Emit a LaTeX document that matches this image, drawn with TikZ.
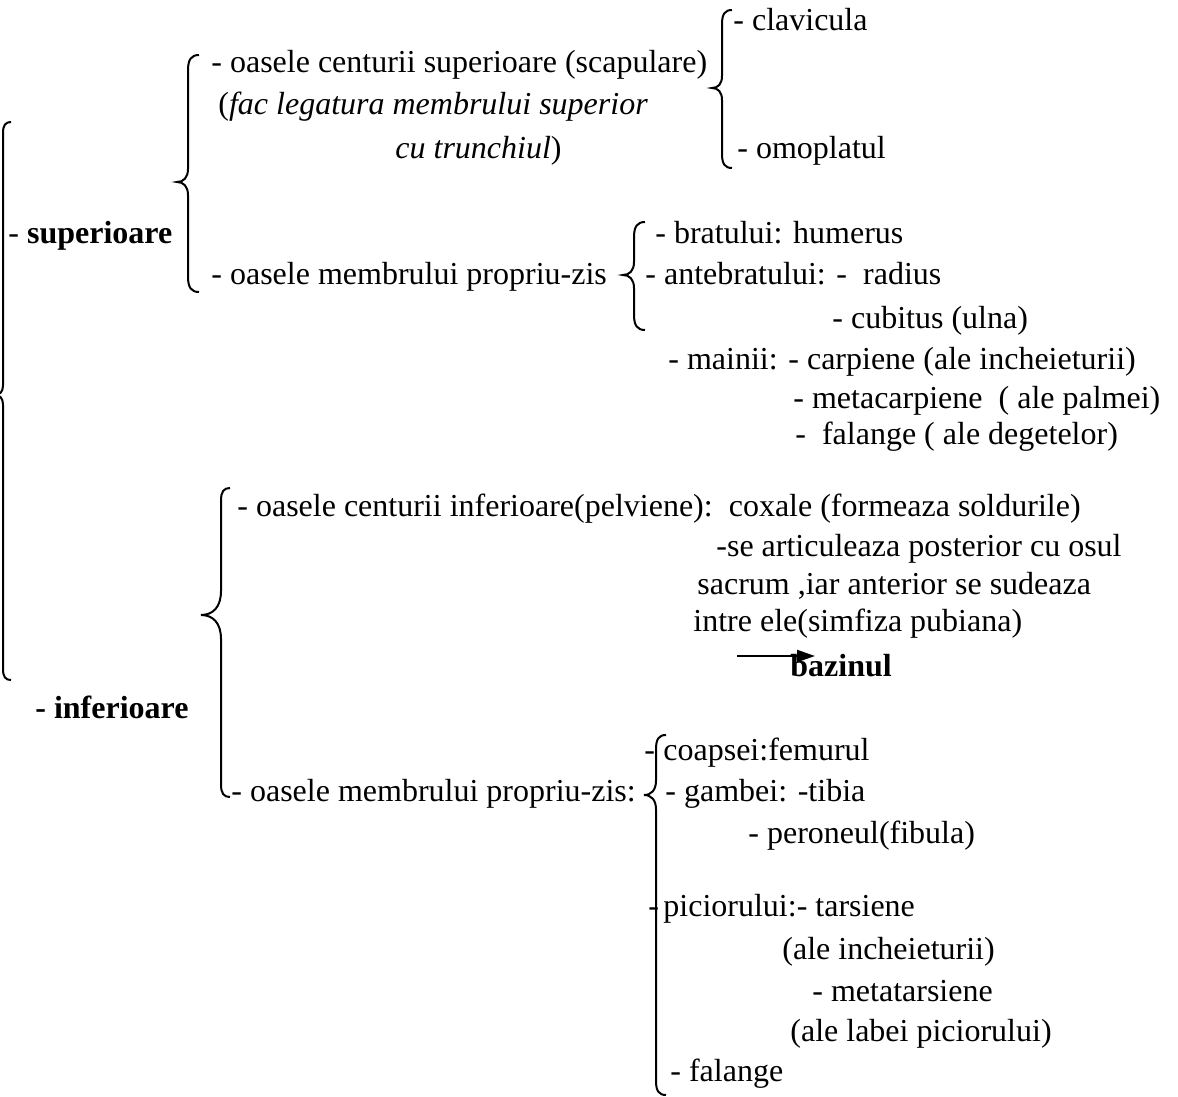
\documentclass[tikz,border=0pt]{standalone}
\usepackage{fontspec}
\setmainfont{Liberation Serif}
\usetikzlibrary{arrows.meta}

\begin{document}
\begin{tikzpicture}[x=0.5pt, y=-0.5pt,
  every node/.style={inner sep=0pt, anchor=base west, font=\fontsize{16}{19}\selectfont},
  brace/.style={line width=1pt}]
\def\bracepath(#1,#2,#3,#4,#5,#6){(#1+#6,#2) .. controls (#1+0.3*#6,#2) and (#1,#2+0.4*#6) .. (#1,#2+1.4*#6) -- (#1,#3-1.2*#5) .. controls (#1,#3-0.4*#5) and (#1-0.4*#5,#3) .. (#1-#5,#3) .. controls (#1-0.4*#5,#3) and (#1,#3+0.4*#5) .. (#1,#3+1.2*#5) -- (#1,#4-1.4*#6) .. controls (#1,#4-0.4*#6) and (#1+0.3*#6,#4) .. (#1+#6,#4)}
\useasboundingbox (0,0) rectangle (1178,1097);

% membre superioare
\draw[brace] \bracepath(3,122,395,680,8,8);
\node (sup) at (8,243) {- \textbf{superioare}};
\draw[brace] \bracepath(188,55,182,292,11,11);

\node (censup) at (211,73) {- oasele centurii superioare (scapulare)};
\node (censupa) at (218,115) {(\textit{fac legatura membrului superior}};
\node (censupb) at (395,159) {\textit{cu trunchiul})};
\draw[brace] \bracepath(722,10,88,168,10,10);
\node (clav) at (733,31) {- clavicula};
\node (omo) at (737,159) {- omoplatul};

\node (memsup) at (211,284) {- oasele membrului propriu-zis};
\draw[brace] \bracepath(634,222,275,330,11,11);
\node (brat) at (655,243) {- bratului: humerus};
\node (ante) at (645,284) {- antebratului: -\ \ radius};
\node (cub) at (832,328) {- cubitus (ulna)};
\node (main) at (668,369) {- mainii: - carpiene (ale incheieturii)};
\node (meta) at (793,408) {- metacarpiene\ \ ( ale palmei)};
\node (falm) at (795,444) {-\ \ falange ( ale degetelor)};

% membre inferioare
\node (inf) at (35,718) {\textbf{- inferioare}};
\draw[brace] \bracepath(221,488,615,797,20,9);

\node (ceninf) at (237,516) {- oasele centurii inferioare(pelviene):\ \ coxale (formeaza soldurile)};
\node (artic) at (716,556) {-se articuleaza posterior cu osul};
\node (sacr) at (697,594) {sacrum ,iar anterior se sudeaza};
\node (intre) at (693,631) {intre ele(simfiza pubiana)};
\node (baz) at (790,676) {\textbf{bazinul}};
\coordinate (bazst) at (737,656);
\coordinate (bazend) at (815,656);
\draw[line width=1pt, -{Triangle[length=9pt,width=6pt]}] (bazst) -- (bazend);

\node (meminf) at (231,801) {- oasele membrului propriu-zis:};
\draw[brace] \bracepath(656,735,795,1095,12,10);
\node (coapd) at (644,760) {-};
\node (coap) at (663,760) {coapsei:femurul};
\node (gamb) at (665,801) {- gambei: -tibia};
\node (pero) at (748,843) {- peroneul(fibula)};
\node (picd) at (648,916) {-};
\node (pic) at (663,916) {piciorului:- tarsiene};
\node (inch) at (782,959) {(ale incheieturii)};
\node (metat) at (812,1001) {- metatarsiene};
\node (labei) at (790,1041) {(ale labei piciorului)};
\node (falp) at (670,1081) {- falange};

\end{tikzpicture}
\end{document}
